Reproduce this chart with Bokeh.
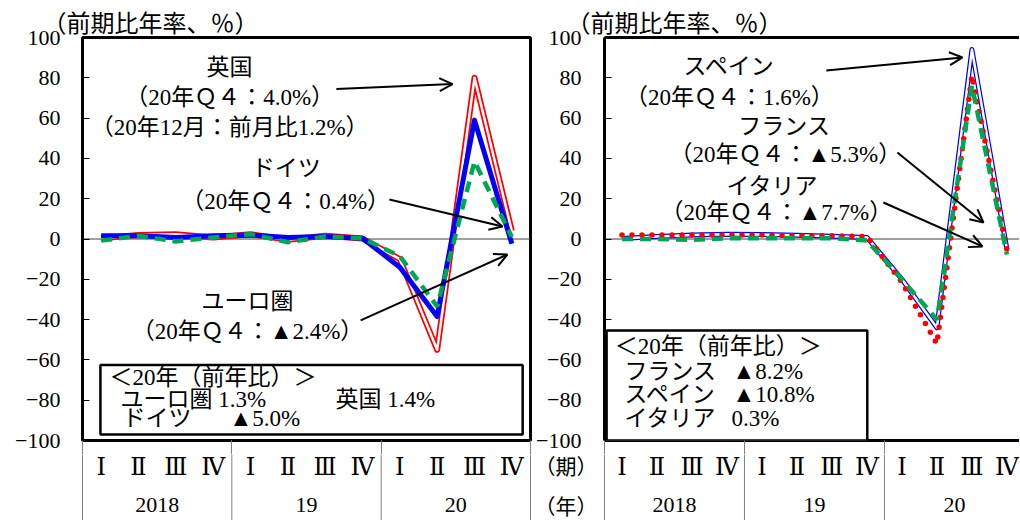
from bokeh.plotting import figure
from bokeh.layouts import row, column
from bokeh.models import (FixedTicker, LinearAxis, Range1d, Span, Label, Arrow,
                          OpenHead, BoxAnnotation)
from bokeh.core.properties import value
from bokeh.embed import file_html
from bokeh.resources import INLINE

# ---------------- data ----------------
quarter_labels = ["Ⅰ", "Ⅱ", "Ⅲ", "Ⅳ"] * 3
year_labels = ["2018", "19", "20"]
year_centers = [2, 6, 10]
year_bounds = [0, 4, 8, 12]
y_ticks = [-100, -80, -60, -40, -20, 0, 20, 40, 60, 80, 100]
row_labels = ["（期）", "（年）"]

# left panel (前期比年率, %)
euro = [1.6, 1.6, 0.8, 1.6, 2.0, 0.8, 1.2, 0.4, -14.0, -38.5, 59.0, -2.4]
uk = [0.4, 2.0, 2.4, 0.8, 2.4, -0.4, 1.6, 0.2, -10.0, -55.0, 80.0, 4.0]
germany = [-0.8, 1.6, -1.2, 0.8, 2.4, -1.6, 1.2, 0.4, -8.5, -33.5, 38.5, 1.0]
# right panel
spain = [0.3, 1.2, 2.0, 2.4, 2.2, 1.8, 1.4, 0.8, -20.0, -44.0, 94.0, -5.0]
france = [2.0, 2.0, 2.0, 2.0, 2.0, 1.6, 1.6, 1.2, -21.5, -52.0, 81.0, -5.3]
italy = [0.0, 0.0, -0.4, 0.4, 0.4, 0.4, 0.4, -0.8, -20.0, -40.0, 76.0, -7.7]

xs = [i + 0.5 for i in range(12)]

JP = "Liberation Serif, Noto Sans CJK JP"
SERIF = "Liberation Serif, DejaVu Serif, Noto Sans CJK JP"
title_text = "（前期比年率、％）"

# annotation texts: (text, x, y, align, size)
left_notes = [
    ("英国", 3.94, 85.3, "center", "23px"),
    ("（20年Ｑ４：4.0%）", 3.94, 70.2, "center", "23px"),
    ("（20年12月：前月比1.2%）", 3.94, 55.3, "center", "23px"),
    ("ドイツ", 5.46, 35.0, "center", "23px"),
    ("（20年Ｑ４：0.4%）", 5.44, 18.6, "center", "23px"),
    ("ユーロ圏", 4.42, -31.0, "center", "23px"),
    ("（20年Ｑ４：▲2.4%）", 4.42, -45.9, "center", "23px"),
    ("＜20年（前年比）＞", 0.72, -68.7, "left", "23px"),
    ("ユーロ圏 1.3%", 1.02, -79.7, "left", "23px"),
    ("英国 1.4%", 6.78, -79.7, "left", "23px"),
    ("ドイツ", 1.07, -89.1, "left", "23px"),
    ("▲5.0%", 3.94, -89.1, "left", "23px"),
]
left_arrows = [(6.80, 74.4, 9.91, 76.9), (8.22, 19.6, 11.25, 6.2), (7.45, -40.4, 11.38, -7.7)]
left_box = (0.48, 11.79, -62.5, -97.0)

right_notes = [
    ("スペイン", 3.57, 85.6, "center", "23px"),
    ("（20年Ｑ４：1.6%）", 3.57, 70.2, "center", "23px"),
    ("フランス", 5.14, 55.8, "center", "23px"),
    ("（20年Ｑ４：▲5.3%）", 5.17, 41.9, "center", "23px"),
    ("イタリア", 4.80, 26.1, "center", "23px"),
    ("（20年Ｑ４：▲7.7%）", 4.91, 13.2, "center", "23px"),
    ("＜20年（前年比）＞", 0.29, -53.3, "left", "23px"),
    ("フランス", 0.57, -65.8, "left", "23px"),
    ("▲8.2%", 3.66, -65.8, "left", "23px"),
    ("スペイン", 0.57, -77.2, "left", "23px"),
    ("▲10.8%", 3.66, -77.2, "left", "23px"),
    ("イタリア", 0.57, -89.1, "left", "23px"),
    ("0.3%", 3.63, -89.1, "left", "23px"),
]
right_arrows = [(6.34, 83.6, 10.23, 90.1), (8.37, 42.9, 10.83, 8.2), (7.97, 18.1, 10.8, -3.7)]
right_box = (0.06, 7.51, -45.4, -100.0)

TOP_H = 454
BOT_H = 66
GAP = 14


def make_top(width, border_left, border_right, x_end, outline, title_offset, bounds,
             standoff):
    p = figure(width=width, height=TOP_H, x_range=Range1d(0, x_end), y_range=Range1d(-100, 100),
               output_backend="svg", toolbar_location=None,
               min_border_left=border_left, min_border_right=border_right,
               min_border_top=37, min_border_bottom=GAP,
               x_axis_type=None, y_axis_type=None, frame_align=False)
    p.xgrid.visible = False
    p.ygrid.visible = False
    p.title.text = title_text
    p.title.align = "left"
    p.title.offset = title_offset
    p.title.text_font = JP
    p.title.text_font_size = "24px"
    p.title.text_font_style = "normal"
    p.title.text_color = "black"
    p.title.standoff = 1
    if outline:
        p.outline_line_color = "black"
        p.outline_line_width = 3
    else:
        p.outline_line_color = None

    yax = LinearAxis(ticker=FixedTicker(ticks=y_ticks, minor_ticks=[]),
                     major_tick_in=7, major_tick_out=0, minor_tick_in=0, minor_tick_out=0,
                     major_tick_line_color="black", major_tick_line_width=1,
                     major_label_standoff=standoff, major_label_text_font="Liberation Serif",
                     major_label_text_font_size="22px", major_label_text_color="black",
                     axis_line_color=None if outline else "black", axis_line_width=3)
    p.add_layout(yax, "left")

    # bottom edge: group separators continue below the frame
    bax = LinearAxis(ticker=FixedTicker(ticks=[], minor_ticks=bounds),
                     major_tick_in=0, major_tick_out=0, minor_tick_in=0,
                     minor_tick_out=GAP, minor_tick_line_color="#808080",
                     minor_tick_line_width=1, major_label_standoff=0,
                     major_label_text_font_size="0px",
                     axis_line_color=None if outline else "black", axis_line_width=3)
    p.add_layout(bax, "below")
    if not outline:
        tax = LinearAxis(ticker=FixedTicker(ticks=[], minor_ticks=[]),
                         major_tick_in=0, major_tick_out=0, minor_tick_in=0,
                         minor_tick_out=0, major_label_standoff=0,
                         major_label_text_font_size="0px",
                         axis_line_color="black", axis_line_width=3)
        p.add_layout(tax, "above")

    p.add_layout(Span(location=0, dimension="width", line_color="#404040",
                      line_width=1, level="underlay"))
    return p


def make_bottom(width, x_start, x_end, bounds, extra=None):
    b = figure(width=width, height=BOT_H, x_range=Range1d(x_start, x_end),
               y_range=Range1d(0, BOT_H), output_backend="svg", toolbar_location=None,
               min_border_left=0, min_border_right=0, min_border_top=0, min_border_bottom=0,
               x_axis_type=None, y_axis_type=None, frame_align=False)
    b.xgrid.visible = False
    b.ygrid.visible = False
    b.outline_line_color = None
    b.segment(x0=bounds, y0=[0] * len(bounds), x1=bounds, y1=[BOT_H] * len(bounds),
              line_color="#808080", line_width=1)
    b.text(x=xs, y=[54] * 12, text=quarter_labels, text_align="center",
           text_baseline="middle", text_font=value(SERIF), text_font_size=value("24px"),
           text_color="black")
    b.text(x=year_centers, y=[16] * 3, text=year_labels, text_align="center",
           text_baseline="middle", text_font=value("Liberation Serif"),
           text_font_size=value("22px"), text_color="black")
    if extra is not None:
        b.text(x=[extra, extra], y=[54, 14], text=row_labels, text_align="left",
               text_baseline="middle", text_font=value(JP), text_font_size=value("21px"),
               text_color="black")
    return b


def add_notes(p, notes, arrows, box):
    l, r, t, bt = box
    p.add_layout(BoxAnnotation(left=l, right=r, top=t, bottom=bt, fill_color="white",
                               fill_alpha=1.0, line_color="black", line_width=2.5,
                               line_alpha=1.0))
    for txt, x, y, al, sz in notes:
        p.add_layout(Label(x=x, y=y, text=txt, text_align=al, text_baseline="middle",
                           text_font=JP, text_font_size=sz, text_color="black"))
    for x0, y0, x1, y1 in arrows:
        p.add_layout(Arrow(x_start=x0, y_start=y0, x_end=x1, y_end=y1,
                           line_color="black", line_width=2,
                           end=OpenHead(size=13, line_color="black", line_width=2)))


# ---------- left panel ----------
PX1 = 448 / 12.0
p1 = make_top(532, 82, 2, 12, True, -40, year_bounds, 22)
p1.line(xs, uk, line_color="#ff0000", line_width=6, line_join="round")
p1.line(xs, uk, line_color="white", line_width=2.5, line_join="round")
p1.line(xs, euro, line_color="#0000ff", line_width=5, line_join="round")
p1.line(xs, germany, line_color="#00a651", line_width=4.5, line_dash="11 7")
add_notes(p1, left_notes, left_arrows, left_box)
b1 = make_bottom(532, -82 / PX1, 12 + 2 / PX1, year_bounds)

# ---------- right panel ----------
X2_END = 11.86
PX2 = 415 / X2_END
p2 = make_top(487, 72, 0, X2_END, False, -38, year_bounds[:3], 23)
p2.line(xs, spain, line_color="#0000ff", line_width=5, line_join="round")
p2.line(xs, spain, line_color="white", line_width=2.5, line_join="round")
p2.line(xs, france, line_color="#ff0000", line_width=5.5, line_dash="0 10", line_cap="round")
p2.line(xs, italy, line_color="#00a651", line_width=4.5, line_dash="11 7")
add_notes(p2, right_notes, right_arrows, right_box)
b2 = make_bottom(487, -72 / PX2, X2_END, year_bounds[:3], extra=-70 / PX2)

layout = row(column(p1, b1), column(p2, b2))
open("out.html", "w").write(file_html(layout, INLINE))
